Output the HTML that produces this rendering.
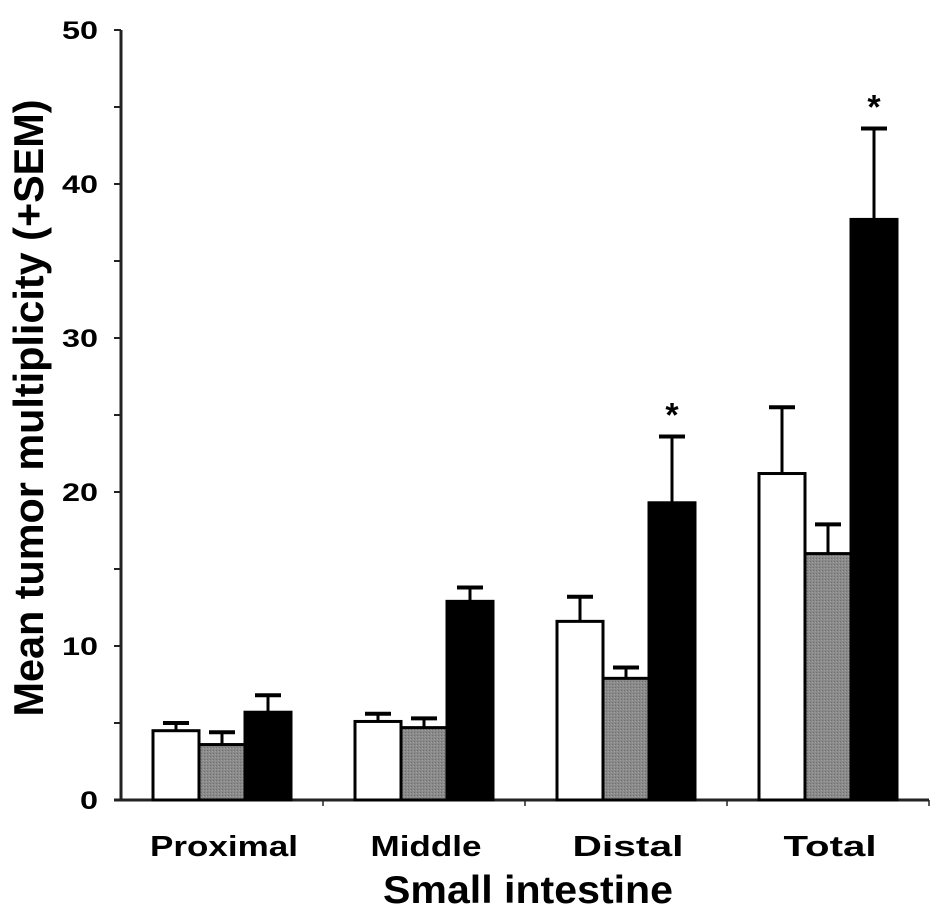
<!DOCTYPE html>
<html><head><meta charset="utf-8"><style>
html,body{margin:0;padding:0;background:#fff;}
svg{display:block;font-family:"Liberation Sans",Arial,sans-serif;}
</style></head><body>
<svg id="chart" width="945" height="919" viewBox="0 0 945 919" xmlns="http://www.w3.org/2000/svg">
<defs><pattern id="dots" width="3" height="3" patternUnits="userSpaceOnUse"><rect width="3" height="3" fill="#8a8a8a"/><rect width="1" height="1" fill="#6e6e6e"/><rect x="2" y="1" width="1" height="1" fill="#a0a0a0"/></pattern></defs>
<g id="axes"></g><g id="bars"></g>
<text transform="translate(43,408) rotate(-90)" text-anchor="middle" font-size="42" font-weight="bold" textLength="617" lengthAdjust="spacingAndGlyphs">Mean tumor multiplicity (+SEM)</text>
<text x="528" y="903" text-anchor="middle" font-size="39" font-weight="bold" textLength="290" lengthAdjust="spacingAndGlyphs">Small intestine</text>
</svg>
<script>
const categories = ["Proximal", "Middle", "Distal", "Total"];
const whiteVals = [4.5, 5.1, 11.6, 21.2];
const whiteErr = [5.0, 5.6, 13.2, 25.5];
const grayVals = [3.6, 4.7, 7.9, 16.0];
const grayErr = [4.4, 5.3, 8.6, 17.9];
const blackVals = [5.7, 12.9, 19.3, 37.7];
const blackErr = [6.8, 13.8, 23.6, 43.6];
const significant = [false, false, true, true];
const yTicks = [0, 10, 20, 30, 40, 50];

const NS = "http://www.w3.org/2000/svg";
const x0 = 121, y0 = 800, unit = 15.4, catW = 202;
const y = v => y0 - v * unit;
const catX = i => x0 + i * catW;
const labelWidthPerChar = 18.5;
function mk(tag, attrs, parent, text) {
  const e = document.createElementNS(NS, tag);
  for (const k in attrs) e.setAttribute(k, attrs[k]);
  if (text !== undefined) e.textContent = text;
  parent.appendChild(e);
  return e;
}
const axes = document.getElementById("axes");
const bars = document.getElementById("bars");
let e;
e = mk("line", {x1: x0, y1: y(50), x2: x0, y2: y0 + 1, stroke: "#222", "stroke-width": 3}, axes);


e = mk("line", {x1: x0 - 7, y1: y0, x2: catX(4), y2: y0, stroke: "#222", "stroke-width": 3}, axes);


for (let v = 0; v <= 50; v += 5) {
  mk("line", {x1: x0 - 7, y1: y(v), x2: x0, y2: y(v), stroke: "#222", "stroke-width": 2}, axes);
}
yTicks.forEach(v => {
  const s = String(v);
  e = mk("text", {x: 98, y: y(v) + 9, "text-anchor": "end", "font-size": 25, "font-weight": "bold", textLength: s.length * 18, lengthAdjust: "spacingAndGlyphs"}, axes, s);
  
  
});
for (let i = 1; i <= 4; i++) mk("line", {x1: catX(i), y1: y0, x2: catX(i), y2: y0 + 6, stroke: "#222", "stroke-width": 1.5}, axes);
const series = [
  {vals: whiteVals, err: whiteErr, fill: "#fff", off: 32},
  {vals: grayVals, err: grayErr, fill: "url(#dots)", off: 78},
  {vals: blackVals, err: blackErr, fill: "#000", off: 124}
];
const bw = 46;
categories.forEach((c, i) => {
  e = mk("text", {x: catX(i) + 103, y: 856, "text-anchor": "middle", "font-size": 29, "font-weight": "bold", textLength: Math.round(c.length * labelWidthPerChar), lengthAdjust: "spacingAndGlyphs"}, axes, c);
  
  
  series.forEach((s, k) => {
    const bx = catX(i) + s.off;
    const cx = bx + bw / 2;
    mk("line", {x1: cx, y1: y(s.vals[i]), x2: cx, y2: y(s.err[i]), stroke: "#000", "stroke-width": 3}, bars);
    mk("line", {x1: cx - 13, y1: y(s.err[i]), x2: cx + 13, y2: y(s.err[i]), stroke: "#000", "stroke-width": 4}, bars);
    e = mk("rect", {x: bx, y: y(s.vals[i]), width: bw, height: y0 - y(s.vals[i]), fill: s.fill, stroke: "#000", "stroke-width": 3}, bars);
    
    
  });
  if (significant[i]) {
    e = mk("text", {x: catX(i) + 147, y: y(blackErr[i]) - 10, "text-anchor": "middle", "font-size": 34, "font-weight": "bold"}, bars, "*");
    
    
  }
});
</script>
</body></html>
